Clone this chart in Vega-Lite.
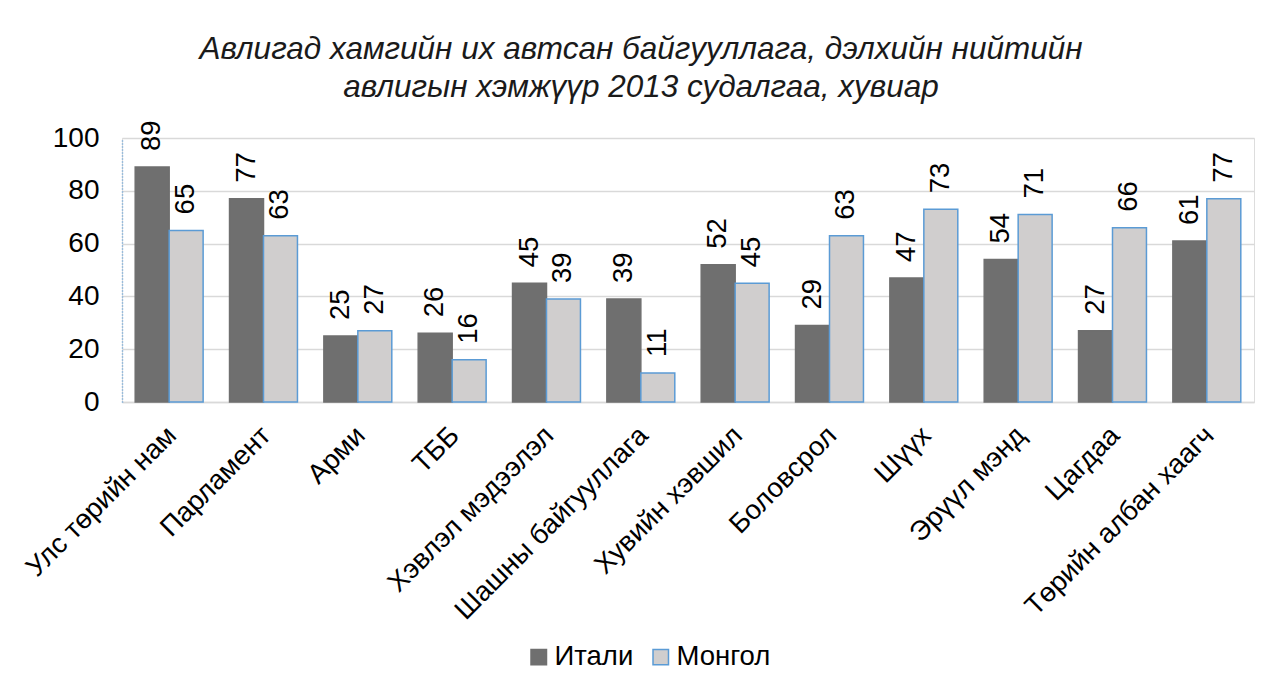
{
  "$schema": "https://vega.github.io/schema/vega-lite/v6.json",
  "width": 1132,
  "height": 264,
  "autosize": "none",
  "padding": {"left": 122, "top": 138, "right": 16, "bottom": 291},
  "background": "white",
  "title": {
    "text": ["Авлигад хамгийн их автсан байгууллага, дэлхийн нийтийн", "авлигын хэмжүүр 2013 судалгаа, хувиар"],
    "font": "Liberation Sans",
    "fontSize": 31.5,
    "fontStyle": "italic",
    "fontWeight": "normal",
    "color": "#1a1a1a",
    "anchor": "middle",
    "frame": "group",
    "dx": -47,
    "lineHeight": 38,
    "offset": 17
  },
  "data": {
    "values": [
      {"cat": "Улс төрийн нам", "country": "Итали", "v": 89},
      {"cat": "Улс төрийн нам", "country": "Монгол", "v": 65},
      {"cat": "Парламент", "country": "Итали", "v": 77},
      {"cat": "Парламент", "country": "Монгол", "v": 63},
      {"cat": "Арми", "country": "Итали", "v": 25},
      {"cat": "Арми", "country": "Монгол", "v": 27},
      {"cat": "ТББ", "country": "Итали", "v": 26},
      {"cat": "ТББ", "country": "Монгол", "v": 16},
      {"cat": "Хэвлэл мэдээлэл", "country": "Итали", "v": 45},
      {"cat": "Хэвлэл мэдээлэл", "country": "Монгол", "v": 39},
      {"cat": "Шашны байгууллага", "country": "Итали", "v": 39},
      {"cat": "Шашны байгууллага", "country": "Монгол", "v": 11},
      {"cat": "Хувийн хэвшил", "country": "Итали", "v": 52},
      {"cat": "Хувийн хэвшил", "country": "Монгол", "v": 45},
      {"cat": "Боловсрол", "country": "Итали", "v": 29},
      {"cat": "Боловсрол", "country": "Монгол", "v": 63},
      {"cat": "Шүүх", "country": "Итали", "v": 47},
      {"cat": "Шүүх", "country": "Монгол", "v": 73},
      {"cat": "Эрүүл мэнд", "country": "Итали", "v": 54},
      {"cat": "Эрүүл мэнд", "country": "Монгол", "v": 71},
      {"cat": "Цагдаа", "country": "Итали", "v": 27},
      {"cat": "Цагдаа", "country": "Монгол", "v": 66},
      {"cat": "Төрийн албан хаагч", "country": "Итали", "v": 61},
      {"cat": "Төрийн албан хаагч", "country": "Монгол", "v": 77}
    ]
  },
  "encoding": {
    "x": {
      "field": "cat",
      "type": "nominal",
      "sort": null,
      "title": null,
      "scale": {"paddingInner": 0.28, "paddingOuter": 0.14},
      "axis": {
        "labelAngle": -45,
        "labelAlign": "right",
        "labelBaseline": "middle",
        "labelFont": "Liberation Sans",
        "labelFontSize": 27.5,
        "labelColor": "#000000",
        "labelPadding": 29,
        "labelOffset": 3,
        "ticks": false,
        "domainColor": "#d9d9d9",
        "domainWidth": 1.5,
        "labelLimit": 400
      }
    },
    "xOffset": {"field": "country", "type": "nominal", "scale": {"paddingInner": 0, "paddingOuter": 0}},
    "y": {
      "field": "v",
      "type": "quantitative",
      "title": null,
      "scale": {"domain": [0, 100]},
      "axis": {
        "values": [0, 20, 40, 60, 80, 100],
        "labelFont": "Liberation Sans",
        "labelFontSize": 28,
        "labelColor": "#000000",
        "labelPadding": 23,
        "ticks": false,
        "domainColor": "#5b9bd5",
        "domainDash": [1, 2],
        "domainWidth": 1.5,
        "gridColor": "#d9d9d9",
        "gridWidth": 1.5
      }
    }
  },
  "layer": [
    {
      "mark": {"type": "bar", "strokeWidth": 1.5},
      "encoding": {
        "fill": {
          "field": "country",
          "type": "nominal",
          "scale": {"domain": ["Итали", "Монгол"], "range": ["#6f6f6f", "#d0cece"]},
          "legend": {
            "title": null,
            "orient": "none",
            "legendX": 403,
            "legendY": 505,
            "direction": "horizontal",
            "symbolType": "square",
            "symbolSize": 240,
            "symbolStrokeWidth": 1.5,
            "labelFont": "Liberation Sans",
            "labelFontSize": 27.5,
            "labelColor": "#000000",
            "columnPadding": 13,
            "labelOffset": 2
          }
        },
        "stroke": {
          "field": "country",
          "type": "nominal",
          "scale": {"domain": ["Итали", "Монгол"], "range": ["#6f6f6f", "#5b9bd5"]},
          "legend": null
        }
      }
    },
    {
      "mark": {
        "type": "text",
        "angle": 270,
        "align": "left",
        "baseline": "middle",
        "dx": 16,
        "font": "Liberation Sans",
        "fontSize": 27.5,
        "color": "#000000"
      },
      "encoding": {
        "text": {"field": "v", "type": "quantitative"}
      }
    }
  ]
}
